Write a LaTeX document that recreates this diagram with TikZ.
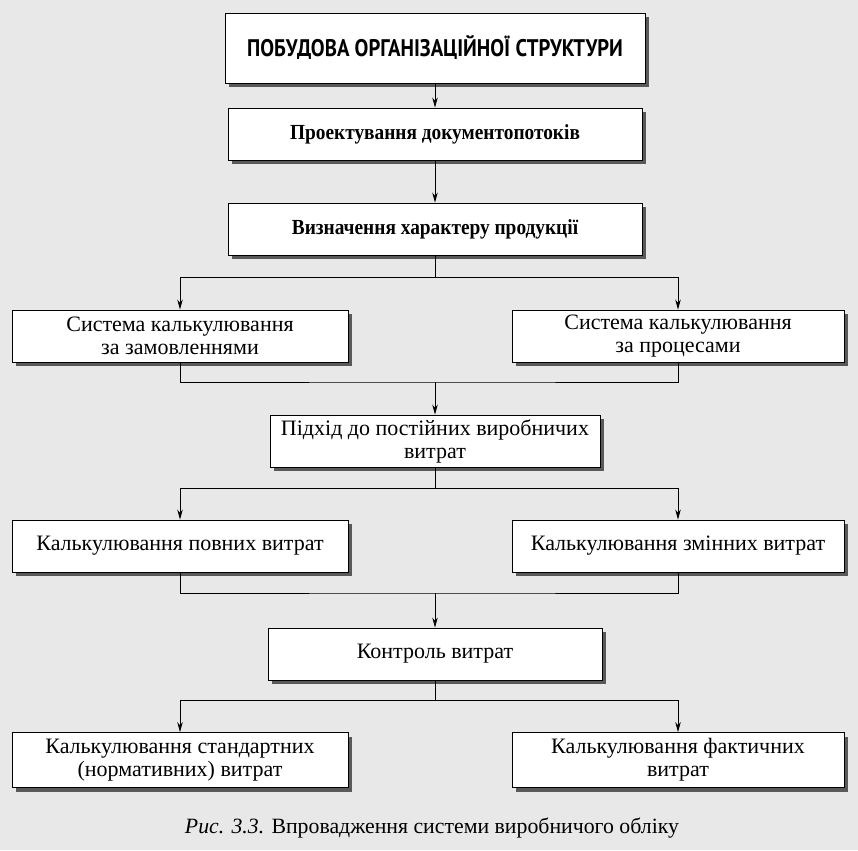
\documentclass[tikz,border=0pt]{standalone}
\usepackage{fontspec}
\setmainfont{Liberation Serif}
\newfontfamily\titlefont{PT Sans}
\usetikzlibrary{arrows.meta,calc}
\tikzset{
  box/.style={draw=black, line width=0.9pt, fill=white, inner sep=0pt, align=center,
    preaction={fill=black!65, transform canvas={xshift=4pt,yshift=-4pt}},
    font=\fontsize{22}{23}\selectfont},
  boldbox/.style={box, font=\fontsize{21.5}{24}\selectfont\bfseries},
  conn/.style={draw=black, line width=0.8pt},
  arr/.style={conn, -{Stealth[length=10pt,width=5.5pt]}}
}
\begin{document}
\begin{tikzpicture}[x=1pt,y=-1pt]
\useasboundingbox (0,0) rectangle (858,850);
\fill[black!9] (0,0) rectangle (858,850);
% nodes
\node[box, minimum width=420pt, minimum height=70pt,
  font=\titlefont\bfseries\fontsize{24}{28}\selectfont] (t) at (435,48)
  {\scalebox{0.86}[1]{ПОБУДОВА ОРГАНІЗАЦІЙНОЇ СТРУКТУРИ}};
\node[boldbox, minimum width=414pt, minimum height=52pt] (p1) at (435,134) {\scalebox{0.9}[1]{Проектування документопотоків}};
\node[boldbox, minimum width=414pt, minimum height=52pt] (p2) at (435,229) {\scalebox{0.9}[1]{Визначення характеру продукції}};
\node[box, minimum width=336pt, minimum height=52pt] (sL) at (180,336) {Система калькулювання\\за замовленнями};
\node[box, minimum width=332pt, minimum height=52pt] (sR) at (678,336) {Система калькулювання\\за процесами};
\node[box, minimum width=330pt, minimum height=52pt] (pd) at (435,441) {Підхід до постійних виробничих\\витрат};
\node[box, minimum width=336pt, minimum height=52pt] (kL) at (180,546) {Калькулювання повних витрат};
\node[box, minimum width=332pt, minimum height=52pt] (kR) at (678,546) {Калькулювання змінних витрат};
\node[box, minimum width=334pt, minimum height=52pt] (kc) at (435,654) {Контроль витрат};
\node[box, minimum width=336pt, minimum height=55pt] (bL) at (180,760) {Калькулювання стандартних\\(нормативних) витрат};
\node[box, minimum width=332pt, minimum height=55pt] (bR) at (678,760) {Калькулювання фактичних\\витрат};
\node[font=\fontsize{21.8}{24}\selectfont] (cap) at (432,828) {\textit{Рис. 3.3.} Впровадження системи виробничого обліку};
% connectors
\draw[arr] (t) -- (p1);
\draw[arr] (p1) -- (p2);
\coordinate (j1) at (435,277);
\draw[conn] (p2.south) -- (j1);
\draw[arr] (j1) -| (sL.north);
\draw[arr] (j1) -| (sR.north);
\coordinate (j2) at (435,382);
\draw[conn] (sL.south) |- (j2) -| (sR.south);
\draw[arr] (j2) -- (pd.north);
\coordinate (j3) at (435,488);
\draw[conn] (pd.south) -- (j3);
\draw[arr] (j3) -| (kL.north);
\draw[arr] (j3) -| (kR.north);
\coordinate (j4) at (435,593);
\draw[conn] (kL.south) |- (j4) -| (kR.south);
\draw[arr] (j4) -- (kc.north);
\coordinate (j5) at (435,700);
\draw[conn] (kc.south) -- (j5);
\draw[arr] (j5) -| (bL.north);
\draw[arr] (j5) -| (bR.north);
\end{tikzpicture}
\end{document}
